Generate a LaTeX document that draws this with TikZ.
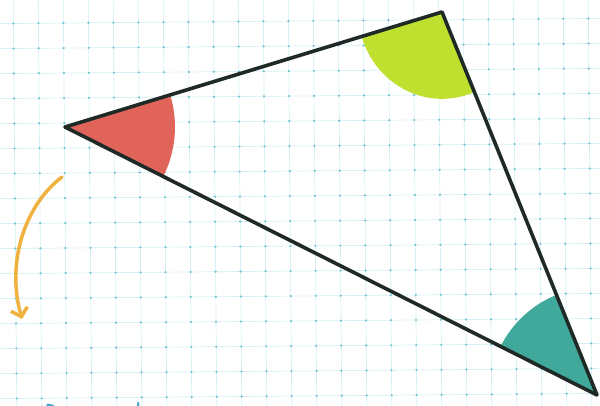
\documentclass[tikz,border=0pt]{standalone}
\usetikzlibrary{arrows.meta}
\definecolor{gridline}{HTML}{D6F0F5}
\definecolor{griddot}{HTML}{6CC2CF}
\definecolor{edge}{HTML}{1F2A26}
\definecolor{redang}{HTML}{E1645A}
\definecolor{greenang}{HTML}{BFE02F}
\definecolor{tealang}{HTML}{40A99B}
\definecolor{orangearr}{HTML}{F0B23E}
\definecolor{bluemark}{HTML}{4AA6CF}
\tikzset{
  gridln/.style={draw=gridline, line width=0.7pt},
  gdot/.style={fill=griddot},
  triedge/.style={draw=edge, line width=3.6pt, line join=round, line cap=round},
  turnarrow/.style={draw=orangearr, line width=3.5pt, line cap=round,
    -{Straight Barb[length=8pt,width=17pt,line width=3.5pt]}},
}
\begin{document}
\begin{tikzpicture}[x=1pt,y=1pt]
\useasboundingbox (0,0) rectangle (600,-406);
\fill[white] (0,0) rectangle (600,-406);
\begin{scope}
  \clip (0,0) rectangle (600,-406);
  \begin{scope}[rotate around={0.5:(300,-203)}]
    \foreach \i in {-2,...,26} {
      \draw[gridln] ({15+25*\i},30) -- ({15+25*\i},-440);
    }
    \foreach \j in {-2,...,18} {
      \draw[gridln] (-30,{-21-25*\j}) -- (640,{-21-25*\j});
    }
    \foreach \i in {-1,...,25} {
      \foreach \j in {-1,...,17} {
        \fill[gdot] ({15+25*\i},{-21-25*\j}) circle (1.2);
      }
    }
  \end{scope}
  % tiny blue marks at bottom edge
  \fill[bluemark] (46,-406) -- (47.5,-403.5) -- (54,-405) -- (54,-406) -- cycle;
  \fill[bluemark] (137,-406) -- (137.5,-402) -- (139,-401.5) -- (139.5,-406) -- cycle;
\end{scope}

\coordinate (A) at (65,-127);
\coordinate (B) at (442,-12);
\coordinate (C) at (597,-395);

% angle sectors
\fill[redang] (A) -- ++(-26.74:110pt) arc[start angle=-26.74, end angle=16.96, radius=110pt] -- cycle;
\fill[greenang] (B) -- ++(196.96:84pt) arc[start angle=196.96, end angle=292.04, x radius=84pt, y radius=88pt] -- cycle;
\fill[tealang] (C) -- ++(112.04:108pt) arc[start angle=112.04, end angle=153.26, radius=108pt] -- cycle;

% triangle
\draw[triedge] (A) -- (B) -- (C) -- cycle;

% orange turning arrow
\coordinate (s) at (62,-177);
\coordinate (e) at (22,-319);
\draw[turnarrow] (s) .. controls (25,-205) and (6,-262) .. (e);
\end{tikzpicture}
\end{document}
